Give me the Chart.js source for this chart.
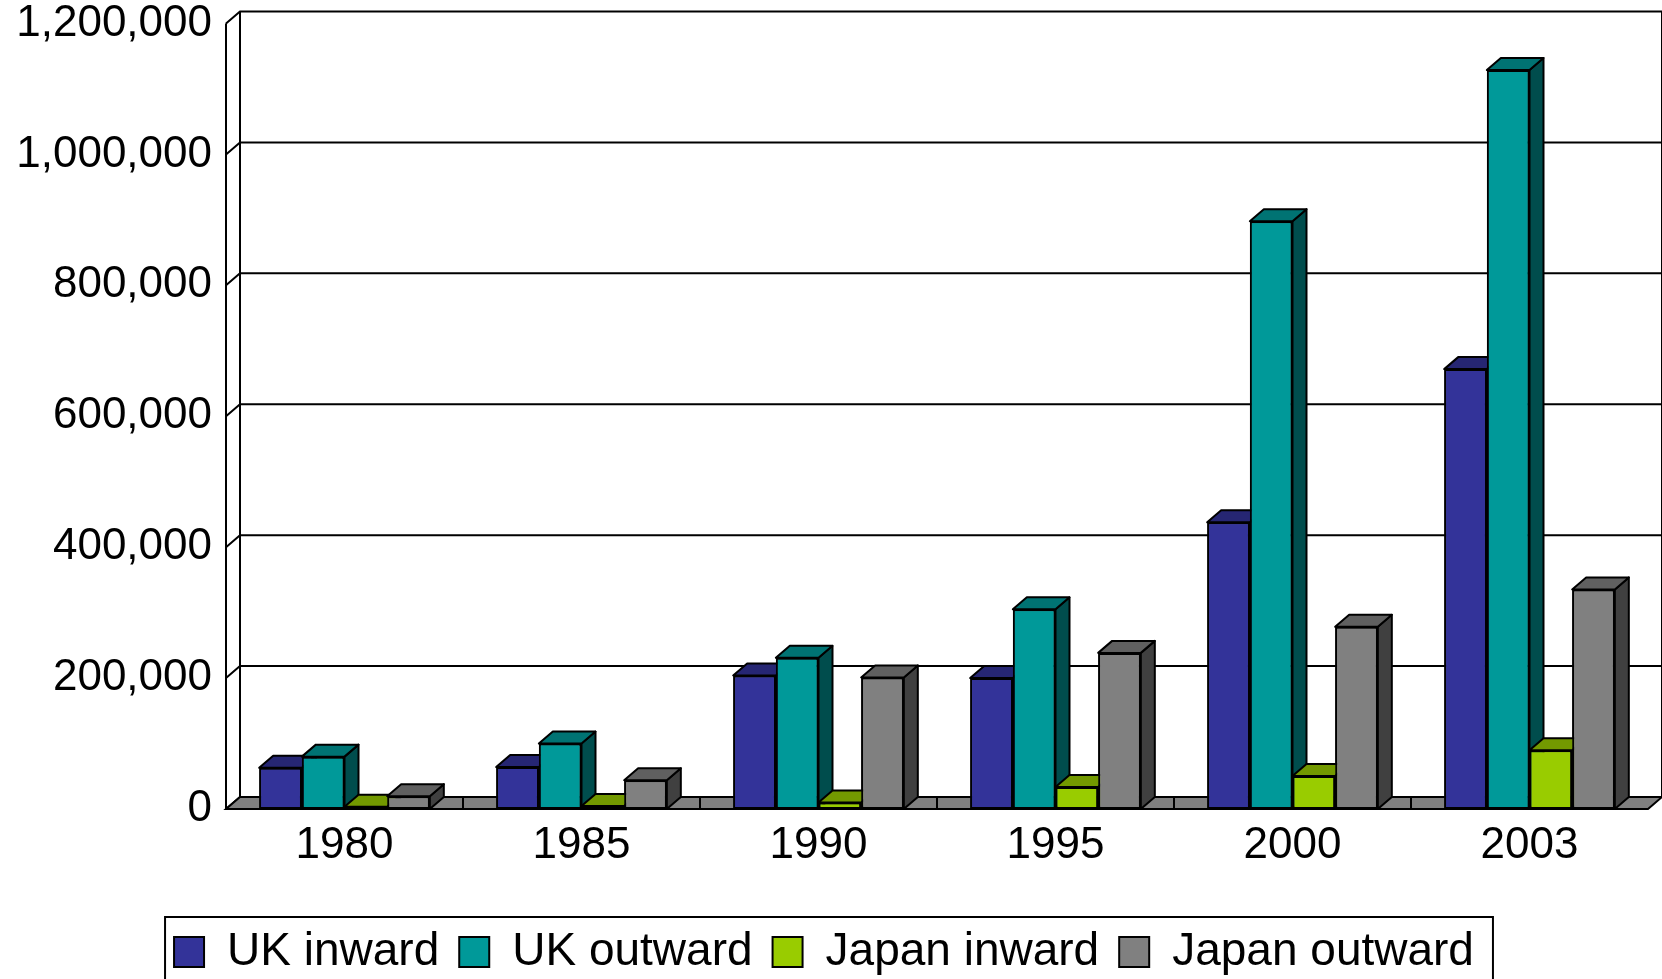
<!DOCTYPE html>
<html>
<head>
<meta charset="utf-8">
<script src="https://cdn.jsdelivr.net/npm/chart.js@4.4.1/dist/chart.umd.min.js"></script>
<style>
  html, body { margin: 0; padding: 0; background: #fff; }
  #wrap { width: 1662px; height: 979px; }
</style>
</head>
<body>
<div id="wrap"><canvas id="fdiChart"></canvas></div>
<script>
// FDI stocks
const years        = ['1980', '1985', '1990', '1995', '2000', '2003'];
const ukInward     = [63000, 64000, 204000, 200000, 438000, 672000];
const ukOutward    = [80000, 100000, 231000, 305000, 898000, 1129000];
const japanInward  = [3300, 4700, 10000, 33500, 50300, 89700];
const japanOutward = [19600, 44000, 201000, 238500, 278400, 335500];
const seriesNames  = ['UK inward', 'UK outward', 'Japan inward', 'Japan outward'];
const yMax  = 1200000;
const yStep = 200000;

const frontColors = ['#333399', '#009999', '#99cc00', '#808080'];
const topColors   = ['#262673', '#007373', '#739900', '#606060'];
const sideColors  = ['#1a1a4d', '#004d4d', '#4d6600', '#404040'];

const DX = 14, DY = 12; // depth of the fake 3d
const FONT = "'Liberation Sans', Arial, sans-serif";

function poly(ctx, pts, fill) {
  ctx.beginPath();
  ctx.moveTo(pts[0][0], pts[0][1]);
  for (let i = 1; i < pts.length; i++) ctx.lineTo(pts[i][0], pts[i][1]);
  ctx.closePath();
  if (fill) { ctx.fillStyle = fill; ctx.fill(); }
  ctx.stroke();
}

const box3d = {
  id: 'box3d',
  beforeDatasetsDraw(chart) {
    const {ctx, chartArea: a, scales: {x, y}} = chart;
    ctx.save();
    ctx.strokeStyle = '#000';
    ctx.lineWidth = 2;
    // walls
    const bTop = y.getPixelForValue(yMax), bBot = y.getPixelForValue(0);
    ctx.beginPath();
    ctx.moveTo(a.left, bTop); ctx.lineTo(a.left, bBot);
    ctx.moveTo(a.left + DX, bTop - DY); ctx.lineTo(a.left + DX, bBot - DY);
    ctx.moveTo(a.right + DX, bTop - DY); ctx.lineTo(a.right + DX, bBot - DY);
    for (let v = 0; v <= yMax; v += yStep) {
      const py = y.getPixelForValue(v);
      ctx.moveTo(a.left, py);
      ctx.lineTo(a.left + DX, py - DY);
      ctx.lineTo(a.right + DX, py - DY);
    }
    ctx.stroke();
    // floor
    poly(ctx, [[a.left, bBot], [a.right, bBot], [a.right + DX, bBot - DY], [a.left + DX, bBot - DY]], '#808080');
    ctx.beginPath();
    for (let i = 1; i < years.length; i++) {
      const xb = (x.getPixelForValue(i - 1) + x.getPixelForValue(i)) / 2;
      ctx.moveTo(xb, bBot); ctx.lineTo(xb, bBot - DY);
    }
    ctx.stroke();
    ctx.restore();
  },
  // chart.js paints dataset 0 last; repaint left to right so each front hides the previous side
  afterDatasetsDraw(chart) {
    const ctx = chart.ctx;
    chart.data.datasets.forEach((ds, i) => {
      const meta = chart.getDatasetMeta(i);
      meta.data.forEach(bar => {
        const {x, y, base, width} = bar.getProps(['x', 'y', 'base', 'width'], true);
        const x0 = x - width / 2, x1 = x + width / 2;
        ctx.save();
        ctx.strokeStyle = '#000';
        ctx.lineWidth = 2;
        ctx.lineJoin = 'round';
        poly(ctx, [[x1, y], [x1 + DX, y - DY], [x1 + DX, base - DY], [x1, base]], sideColors[i]);
        poly(ctx, [[x0, y], [x1, y], [x1 + DX, y - DY], [x0 + DX, y - DY]], topColors[i]);
        ctx.restore();
        bar.draw(ctx, chart.chartArea);
      });
    });
  },
  afterDraw(chart) {
    const hb = chart.legend.legendHitBoxes;
    if (!hb || !hb.length) return;
    const ctx = chart.ctx;
    const last = hb[hb.length - 1];
    const mid = hb[0].top + hb[0].height / 2;
    const left = hb[0].left - 9;
    ctx.save();
    ctx.strokeStyle = '#000';
    ctx.lineWidth = 2;
    ctx.strokeRect(left, mid - 35, last.left + last.width + 19 - left, 120);
    ctx.restore();
  }
};

const allSeries = [ukInward, ukOutward, japanInward, japanOutward];
const datasets = allSeries.map((data, i) => ({
  label: seriesNames[i],
  data,
  backgroundColor: frontColors[i],
  borderColor: '#000',
  borderWidth: 2,
  borderSkipped: false,
  categoryPercentage: 0.72,
  barPercentage: 1.0
}));

new Chart(document.getElementById('fdiChart'), {
  type: 'bar',
  data: { labels: years, datasets },
  options: {
    responsive: true,
    maintainAspectRatio: false,
    animation: false,
    layout: { padding: { top: 23.5, right: 14, left: 0, bottom: -6 } },
    plugins: {
      legend: {
        position: 'bottom',
        labels: {
          color: '#000',
          font: { family: FONT, size: 46 },
          boxWidth: 30,
          boxHeight: 30,
          padding: 20
        }
      },
      tooltip: { enabled: false }
    },
    scales: {
      x: {
        grid: { display: false, drawTicks: false },
        border: { display: false },
        ticks: { color: '#000', font: { family: FONT, size: 44 }, padding: 10, maxRotation: 0 },
        afterFit(s) { s.height = 100; }
      },
      y: {
        min: 0,
        max: yMax,
        grid: { display: false, drawTicks: false },
        border: { display: false },
        ticks: {
          stepSize: yStep,
          color: '#000',
          padding: 14,
          font: { family: FONT, size: 44, lineHeight: 1 },
          callback: v => v.toLocaleString('en-US')
        },
        afterFit(s) {
          s.width = 226;
          s.paddingTop = 0;
          s.paddingBottom = 0;
        }
      }
    }
  },
  plugins: [box3d]
});
</script>
</body>
</html>
